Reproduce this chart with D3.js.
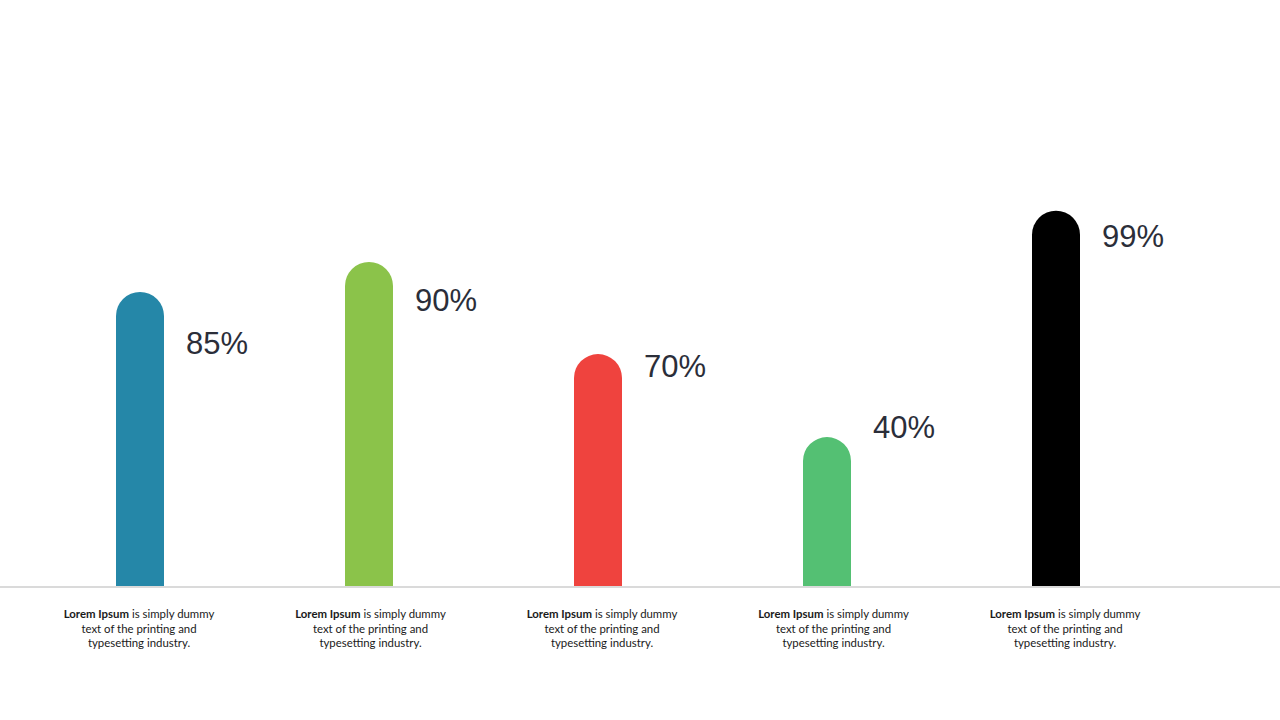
<!DOCTYPE html>
<html>
<head>
<meta charset="utf-8">
<script src="https://cdn.jsdelivr.net/npm/d3@7"></script>
<style>
  html, body { margin: 0; padding: 0; background: #ffffff; }
  svg { display: block; }
</style>
</head>
<body>
<svg id="chart" width="1280" height="720"></svg>
<script>
// ---- data ----
const categories = ["A", "B", "C", "D", "E"];
const valueLabels = ["85%", "90%", "70%", "40%", "99%"];
// bar heights as drawn in the picture (0-100 scale, estimated)
const barLevels = [77.6, 85.5, 61.2, 39.3, 99];
// vertical level of each value label (same 0-100 scale, estimated)
const labelLevels = [61.2, 72.6, 55.2, 39.1, 89.4];
const colors = ["#2587a8", "#8bc34a", "#ef433e", "#54c073", "#000000"];
const captionBold = "Lorem Ipsum";
const captionLines = ["is simply dummy", "text of the printing and", "typesetting industry."];

// ---- layout ----
const svg = d3.select("#chart");
const baseY = 586;
const barW = 48;

const x = d3.scalePoint().domain(categories).range([140, 1056]);
const xCap = d3.scalePoint().domain(categories).range([139, 1065]);
const y = d3.scaleLinear().domain([0, 100]).range([baseY, 207]);

function barPath(cx, top) {
  const r = barW / 2;
  const l = cx - r, rt = cx + r;
  return `M${l},${baseY} L${l},${top + r} A${r},${r} 0 0 1 ${rt},${top + r} L${rt},${baseY} Z`;
}

// baseline
svg.append("rect")
  .attr("x", 0).attr("y", baseY).attr("width", 1280).attr("height", 2)
  .attr("fill", "#dadada");

// bars
svg.selectAll("path.bar")
  .data(categories)
  .join("path")
  .attr("class", "bar")
  .attr("d", (c, i) => barPath(x(c), y(barLevels[i])))
  .attr("fill", (c, i) => colors[i]);

// value labels
svg.selectAll("text.val")
  .data(categories)
  .join("text")
  .attr("class", "val")
  .attr("x", (c, i) => x(c) + barW / 2 + 22)
  .attr("y", (c, i) => y(labelLevels[i]))
  .attr("font-family", "'Liberation Sans', Arial, sans-serif")
  .attr("font-size", 31)
  .attr("fill", "#2b2e39")
  .text((c, i) => valueLabels[i]);

// captions
const cap = svg.selectAll("g.cap")
  .data(categories)
  .join("g")
  .attr("class", "cap")
  .attr("transform", c => `translate(${xCap(c)},0)`);

cap.each(function() {
  const g = d3.select(this);
  const t = g.append("text")
    .attr("text-anchor", "middle")
    .attr("font-family", "Lato, 'Open Sans', sans-serif")
    .attr("font-size", 11.4)
    .attr("fill", "#1a1a1a");
  const l1 = t.append("tspan").attr("x", 0).attr("y", 618);
  l1.append("tspan").attr("font-weight", "bold").text(captionBold);
  l1.append("tspan").text(" " + captionLines[0]);
  t.append("tspan").attr("x", 0).attr("y", 632.5).text(captionLines[1]);
  t.append("tspan").attr("x", 0).attr("y", 647).text(captionLines[2]);
});
</script>
</body>
</html>
